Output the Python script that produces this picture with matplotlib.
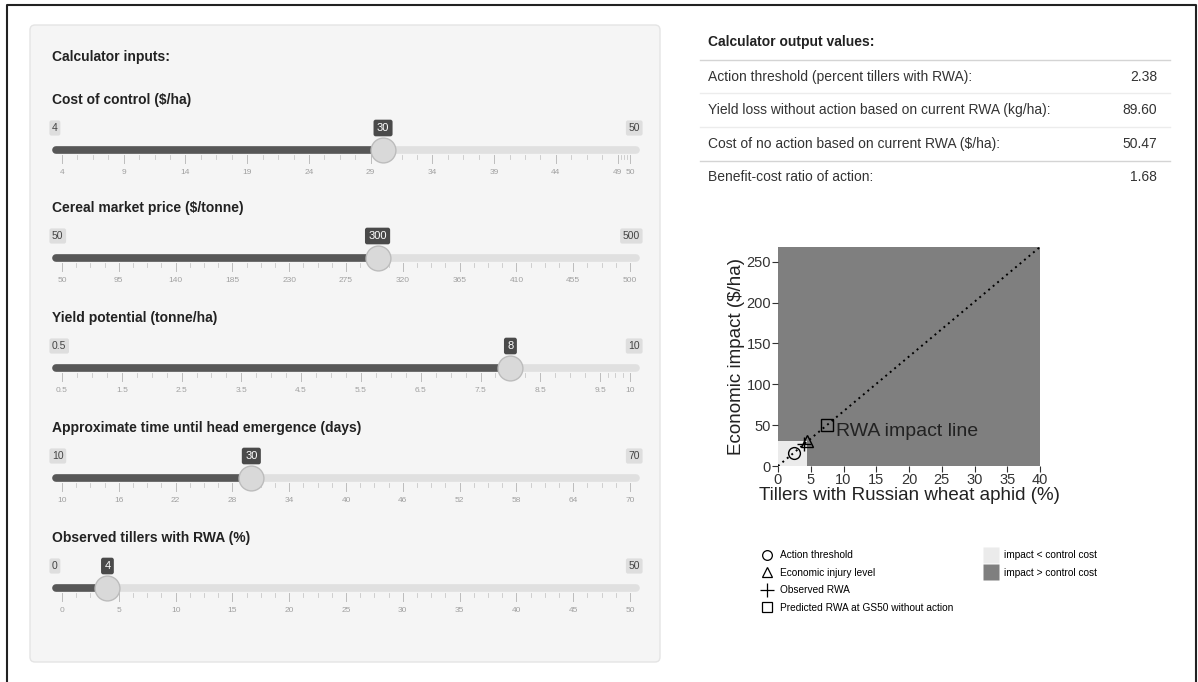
import matplotlib.pyplot as plt
from matplotlib.patches import FancyBboxPatch, Rectangle
from matplotlib.lines import Line2D

plt.rcParams['font.family'] = ['Liberation Sans', 'DejaVu Sans']

W, H = 1198, 682

# slider inputs
slider_labels = ["Cost of control ($/ha)", "Cereal market price ($/tonne)",
                 "Yield potential (tonne/ha)", "Approximate time until head emergence (days)",
                 "Observed tillers with RWA (%)"]
slider_min = [4, 50, 0.5, 10, 0]
slider_max = [50, 500, 10, 70, 50]
slider_value = [30, 300, 8, 30, 4]
slider_ticks = [
    [4, 9, 14, 19, 24, 29, 34, 39, 44, 49, 50],
    [50, 95, 140, 185, 230, 275, 320, 365, 410, 455, 500],
    [0.5, 1.5, 2.5, 3.5, 4.5, 5.5, 6.5, 7.5, 8.5, 9.5, 10],
    [10, 16, 22, 28, 34, 40, 46, 52, 58, 64, 70],
    [0, 5, 10, 15, 20, 25, 30, 35, 40, 45, 50],
]

# outputs
output_labels = ["Action threshold (percent tillers with RWA):",
                 "Yield loss without action based on current RWA (kg/ha):",
                 "Cost of no action based on current RWA ($/ha):",
                 "Benefit-cost ratio of action:"]
output_values = ["2.38", "89.60", "50.47", "1.68"]

# chart data
impact_line_x = [0, 40]
impact_line_y = [0, 268]
cost_of_control = 30
injury_level = 4.48
action_threshold = (2.38, 16.0)
observed_rwa = (4.0, 26.8)
predicted_rwa = (7.53, 50.47)

fig = plt.figure(figsize=(W / 100, H / 100), dpi=100)
bg = fig.add_axes([0, 0, 1, 1], zorder=0)
bg.set_xlim(0, W)
bg.set_ylim(H, 0)
bg.axis('off')

# page frame
bg.plot([7, 7, 1196, 1196], [H, 5, 5, H], color='#222222', lw=1.5)

# input panel
bg.add_patch(FancyBboxPatch((30, 25), 630, 637, boxstyle='round,pad=0,rounding_size=5',
                            facecolor='#f5f5f5', edgecolor='#e4e4e4', lw=1))
bg.text(52, 57, "Calculator inputs:", fontsize=10, fontweight='bold', va='center', color='#222222')

track_y = [150, 258, 368, 478, 588]
for i in range(len(slider_labels)):
    ty = track_y[i]
    bg.text(52, ty - 50, slider_labels[i], fontsize=10, fontweight='bold', va='center', color='#222222')
    lo, hi = slider_min[i], slider_max[i]
    pad = (hi - lo) * 10 / 568
    ax = fig.add_axes([52 / W, 1 - (ty + 34) / H, 588 / W, 70 / H], zorder=1)
    ax.set_xlim(lo - pad, hi + pad)
    ax.set_ylim(ty + 34, ty - 36)
    ax.axis('off')
    ax.patch.set_alpha(0)
    # track
    ax.plot([lo - pad * 0.6, hi + pad * 0.6], [ty, ty], color='#e0e0e0', lw=5.5, solid_capstyle='round')
    ax.plot([lo - pad * 0.6, slider_value[i]], [ty, ty], color='#575757', lw=5.5, solid_capstyle='round')
    # grid
    tks = slider_ticks[i]
    for a, b in zip(tks[:-1], tks[1:]):
        for k in range(1, 4):
            xm = a + (b - a) * k / 4
            ax.plot([xm, xm], [ty + 5, ty + 9], color='#c8c8c8', lw=0.6)
    for t in tks:
        ax.plot([t, t], [ty + 5, ty + 13], color='#bdbdbd', lw=0.7)
        ax.text(t, ty + 23, f"{t:g}", fontsize=6, ha='center', va='center', color='#a0a0a0')
    # handle
    ax.scatter([slider_value[i]], [ty], s=320, color='#d9d9d9', edgecolors='#bcbcbc', lw=1, zorder=5)
    # badges
    ax.text(lo - pad, ty - 22, f"{lo:g}", fontsize=7.5, ha='left', va='center', color='#444444',
            bbox=dict(boxstyle='round,pad=0.25,rounding_size=0.2', fc='#dedede', ec='none'))
    ax.text(hi + pad, ty - 22, f"{hi:g}", fontsize=7.5, ha='right', va='center', color='#444444',
            bbox=dict(boxstyle='round,pad=0.25,rounding_size=0.2', fc='#dedede', ec='none'))
    ax.text(slider_value[i], ty - 22, f"{slider_value[i]:g}", fontsize=8, ha='center', va='center',
            color='white', zorder=6,
            bbox=dict(boxstyle='round,pad=0.3,rounding_size=0.2', fc='#4a4a4a', ec='none'))

# outputs table
bg.text(708, 42, "Calculator output values:", fontsize=10, fontweight='bold', va='center', color='#222222')
bg.plot([700, 1170], [60, 60], color='#d4d4d4', lw=1)
row_y = [77, 110, 144, 177]
for j in range(len(output_labels)):
    bg.text(708, row_y[j], output_labels[j], fontsize=10, va='center', color='#333333')
    bg.text(1157, row_y[j], output_values[j], fontsize=10, va='center', ha='right', color='#333333')
for ly, c in zip([93, 127, 161], ['#ececec', '#ececec', '#d4d4d4']):
    bg.plot([700, 1170], [ly, ly], color=c, lw=1)

# impact chart
pax = fig.add_axes([778 / W, 1 - 466 / H, 262 / W, 219 / H], zorder=1)
pax.set_facecolor('#7f7f7f')
pax.add_patch(Rectangle((0, 0), injury_level, cost_of_control, facecolor='#ebebeb', edgecolor='none'))
pax.plot(impact_line_x, impact_line_y, color='black', ls=(0, (1, 2)), lw=1.4)
ms = 8.5
pax.plot(*action_threshold, marker='o', mfc='none', mec='black', ms=ms, mew=1)
pax.plot(injury_level, cost_of_control, marker='^', mfc='none', mec='black', ms=ms, mew=1)
pax.plot(*observed_rwa, marker='+', color='black', ms=ms + 2, mew=1)
pax.plot(*predicted_rwa, marker='s', mfc='none', mec='black', ms=ms, mew=1)
pax.text(predicted_rwa[0] + 1.3, predicted_rwa[1] - 8, "RWA impact line", fontsize=14, va='center', color='#222222')
pax.set_xlim(0, 40)
pax.set_ylim(0, 268)
pax.set_xticks(range(0, 41, 5))
pax.set_yticks(range(0, 251, 50))
pax.tick_params(labelsize=10.5, length=4, width=0.8, pad=1, colors='#333333')
for s in pax.spines.values():
    s.set_visible(False)
pax.set_xlabel("Tillers with Russian wheat aphid (%)", fontsize=13.5, labelpad=0, color='#222222')
pax.set_ylabel("Economic impact ($/ha)", fontsize=13.5, labelpad=1, color='#222222')

# legends
mk = dict(ls='none', color='black', mfc='none', ms=7, mew=0.9)
h1 = [Line2D([], [], marker='o', **mk), Line2D([], [], marker='^', **mk),
      Line2D([], [], marker='+', ls='none', color='black', ms=10, mew=0.9),
      Line2D([], [], marker='s', **mk)]
fig.legend(h1, ["Action threshold", "Economic injury level", "Observed RWA",
                "Predicted RWA at GS50 without action"],
           loc='upper left', bbox_to_anchor=(756 / W, 1 - 545 / H), frameon=False,
           fontsize=7.3, labelspacing=0.75, handlelength=1.2, handletextpad=0.7, borderpad=0)
h2 = [Line2D([], [], marker='s', ls='none', mfc='#ebebeb', mec='none', ms=12),
      Line2D([], [], marker='s', ls='none', mfc='#7f7f7f', mec='none', ms=12)]
fig.legend(h2, ["impact < control cost", "impact > control cost"],
           loc='upper left', bbox_to_anchor=(980 / W, 1 - 545 / H), frameon=False,
           fontsize=7.3, labelspacing=0.75, handlelength=1.2, handletextpad=0.7, borderpad=0)

fig.savefig("out.png", dpi=100)
